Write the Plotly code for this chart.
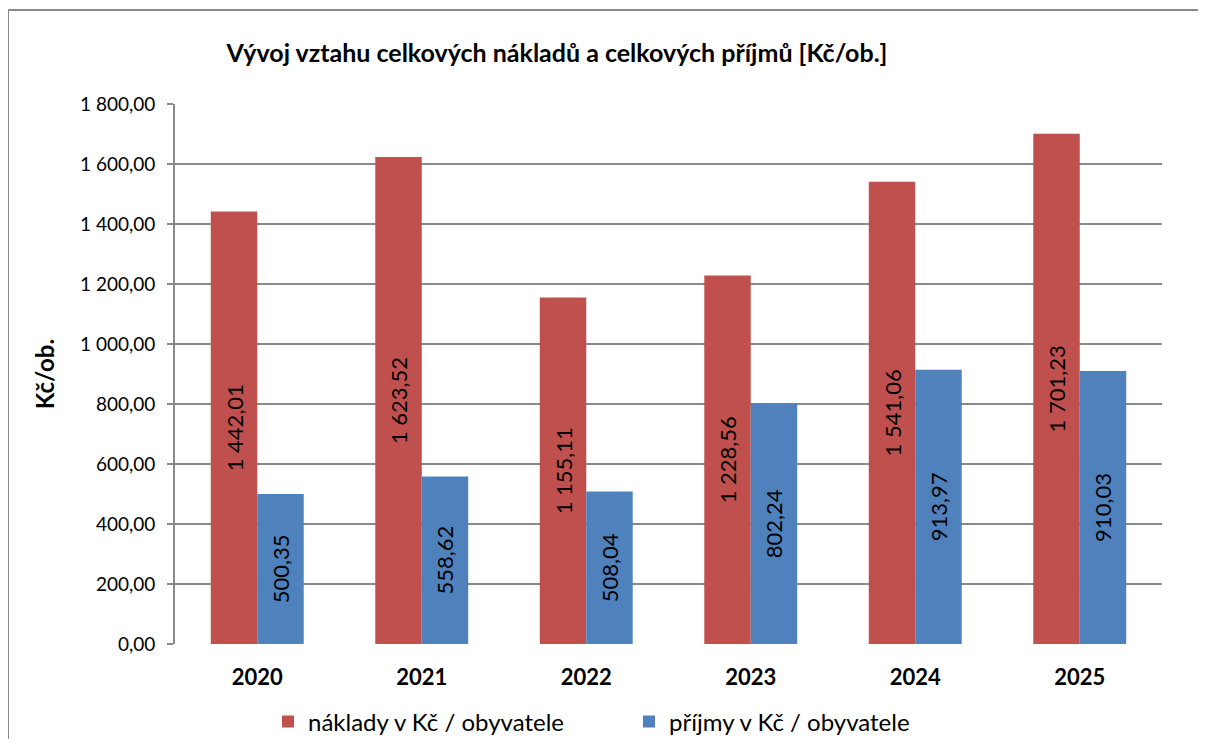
import plotly.graph_objects as go

years = ["2020", "2021", "2022", "2023", "2024", "2025"]
naklady = [1442.01, 1623.52, 1155.11, 1228.56, 1541.06, 1701.23]
prijmy = [500.35, 558.62, 508.04, 802.24, 913.97, 910.03]
y_ticks = [0, 200, 400, 600, 800, 1000, 1200, 1400, 1600, 1800]

FONT = "Lato"
OFF = 8  # browser body margin
W, H = 1206 - 2 * OFF, 747 - 2 * OFF
# plot area in reference pixel coordinates
PX0, PX1, PY0, PY1 = 175, 1162, 104, 644
L, T = PX0 - OFF, PY0 - OFF
R = W - (PX1 - OFF)
B = H - (PY1 - OFF)

fig = go.Figure()
for name, vals, col in [("náklady v Kč / obyvatele", naklady, "#C0504D"),
                        ("příjmy v Kč / obyvatele", prijmy, "#4F81BD")]:
    fig.add_trace(go.Bar(
        x=years, y=vals, name=name,
        marker=dict(color=col, line=dict(width=0)),
        texttemplate="%{y:,.2f}", textposition="inside", insidetextanchor="middle",
        textangle=-90, textfont=dict(family=FONT, size=22, color="#000000"),
        hoverinfo="skip",
    ))

pw = PX1 - PX0
ph = PY1 - PY0
def px(x):
    return (x - PX0) / pw
def py(y):
    return (PY1 - y) / ph

GRID = "#898989"

fig.update_layout(
    width=W, height=H,
    margin=dict(l=L, r=R, t=T, b=B, autoexpand=False),
    paper_bgcolor="white", plot_bgcolor="white",
    separators=", ",
    font=dict(family=FONT, color="#000000"),
    barmode="group", bargap=0.435, bargroupgap=0,
    title=dict(
        text="<b>Vývoj vztahu celkových nákladů a celkových příjmů [Kč/ob.]</b>",
        x=(557 - OFF) / W, xanchor="center", xref="container",
        y=1 - (53 - OFF) / H, yanchor="middle", yref="container",
        font=dict(family=FONT, size=25, color="#000000"),
    ),
    xaxis=dict(
        showgrid=False, showline=False, ticks="",
        tickfont=dict(family=FONT, size=22, color="#000000", weight="bold"),
        ticklabelstandoff=18,
    ),
    yaxis=dict(
        range=[0, 1800], tickvals=y_ticks, tickformat=",.2f",
        showgrid=True, gridcolor=GRID, gridwidth=1.6,
        showline=True, linecolor=GRID, linewidth=1.6,
        ticks="outside", ticklen=6, tickcolor=GRID, tickwidth=1.6,
        tickfont=dict(family=FONT, size=19, color="#000000"),
        ticklabelstandoff=8,
        zeroline=False,
        title=dict(text="<b>Kč/ob.</b>", font=dict(family=FONT, size=24, color="#000000"), standoff=19),
    ),
    legend=dict(
        orientation="h", x=px(268), xanchor="left", y=py(722), yanchor="middle",
        font=dict(family=FONT, size=24, color="#000000"),
        itemwidth=30, traceorder="normal", entrywidth=316,
    ),
    shapes=[
        dict(type="line", xref="paper", yref="paper", x0=px(8), x1=px(1240), y0=py(10), y1=py(10),
             line=dict(color=GRID, width=2)),
        dict(type="line", xref="paper", yref="paper", x0=px(8), x1=px(8), y0=py(10), y1=py(800),
             line=dict(color=GRID, width=2)),
    ],
)

fig.write_html("out.html")
